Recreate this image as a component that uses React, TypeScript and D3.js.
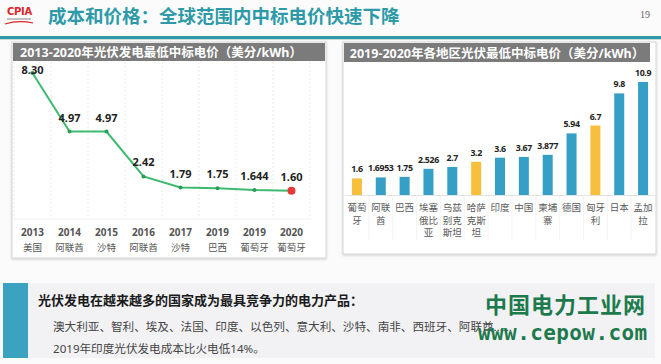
import React from 'react';
import * as d3 from 'd3';

const years = ['2013', '2014', '2015', '2016', '2017', '2019', '2019', '2020'];
const yearCountries = ['美国', '阿联酋', '沙特', '阿联酋', '沙特', '巴西', '葡萄牙', '葡萄牙'];
const yearPrices = [8.3, 4.97, 4.97, 2.42, 1.79, 1.75, 1.644, 1.6];
const yearPriceLabels = ['8.30', '4.97', '4.97', '2.42', '1.79', '1.75', '1.644', '1.60'];

const regions = ['葡萄牙', '阿联酋', '巴西', '埃塞俄比亚', '乌兹别克斯坦', '哈萨克斯坦', '印度', '中国', '柬埔寨', '德国', '匈牙利', '日本', '孟加拉'];
const regionPrices = [1.6, 1.6953, 1.75, 2.526, 2.7, 3.2, 3.6, 3.67, 3.877, 5.94, 6.7, 9.8, 10.9];
const regionPriceLabels = ['1.6', '1.6953', '1.75', '2.526', '2.7', '3.2', '3.6', '3.67', '3.877', '5.94', '6.7', '9.8', '10.9'];
const highlightedRegions = ['葡萄牙', '哈萨克斯坦', '匈牙利'];

const pageTitle = '成本和价格：全球范围内中标电价快速下降';
const leftTitle = '2013-2020年光伏发电最低中标电价（美分/kWh）';
const rightTitle = '2019-2020年各地区光伏最低中标电价（美分/kWh）';
const noteHeading = '光伏发电在越来越多的国家成为最具竞争力的电力产品：';
const noteLine1 = '澳大利亚、智利、埃及、法国、印度、以色列、意大利、沙特、南非、西班牙、阿联酋……';
const noteLine2 = '2019年印度光伏发电成本比火电低14%。';

const FONT = '"Noto Sans", "Noto Sans CJK SC", sans-serif';
const TEAL = '#2e9aa8';
const BLUE = '#369fc5';
const YELLOW = '#f7c03c';
const GREEN = '#3cba6f';

function splitLabel(s: string): string[] {
  const out: string[] = [];
  for (let i = 0; i < s.length; i += 2) out.push(s.slice(i, i + 2));
  return out;
}

export default function App() {
  // Left chart scales
  const lx = d3.scaleBand<number>().domain(d3.range(years.length)).range([14, 310]);
  const ly = d3.scaleLinear().domain([0, 8.3]).range([219, 73]);
  const line = d3
    .line<number>()
    .x((_, i) => (lx(i) as number) + lx.bandwidth() / 2)
    .y((d) => ly(d));

  // Right chart scales
  const rx = d3.scaleBand<number>().domain(d3.range(regions.length)).range([345, 655]).paddingInner(0.58).paddingOuter(0.29);
  const ry = d3.scaleLinear().domain([0, 10.9]).range([195, 82]);
  const rStep = rx.step();

  return (
    <svg width={661} height={364} style={{ position: 'absolute', left: 0, top: 0, background: '#fff' }} fontFamily={FONT}>
      <defs>
        <filter id="sh" x="-5%" y="-5%" width="110%" height="110%">
          <feDropShadow dx="0" dy="1" stdDeviation="1.2" floodColor="#000" floodOpacity="0.18" />
        </filter>
      </defs>
      <rect x={0} y={0} width={661} height={364} fill="#fbfbfc" />

      {/* Header */}
      <text x={7} y={15} fontSize={10} fontWeight={900} fill="#d9262b" fontFamily='"DejaVu Sans", sans-serif' letterSpacing={-0.3}>CPIA</text>
      <rect x={7} y={18} width={24} height={2} fill="#999" opacity={0.6} />
      <path d="M5,24 Q18,20 33,23" stroke="#d9262b" strokeWidth={1.2} fill="none" />
      <text x={48} y={23} fontSize={18.5} fontWeight={700} fill={TEAL}>{pageTitle}</text>
      <text x={640} y={18} fontSize={10} fill="#666" fontFamily='"Liberation Serif", serif'>19</text>
      <rect x={0} y={36} width={661} height={3} fill={TEAL} />
      <rect x={0} y={39} width={661} height={1} fill="#cfd8da" />

      {/* Left panel */}
      <rect x={12} y={42} width={314} height={216} fill="#fff" stroke="#d6d6d6" filter="url(#sh)" />
      <rect x={13} y={43} width={312} height={18} fill="#7b7b7b" />
      <text x={161} y={57} textAnchor="middle" fontSize={12.5} fontWeight={700} fill="#fff">{leftTitle}</text>
      {d3.range(years.length + 1).map((i) => {
        const x = i < years.length ? (lx(i) as number) : 310;
        return <line key={i} x1={x} x2={x} y1={62} y2={219} stroke="#e6e6e6" strokeWidth={0.8} strokeDasharray="2,2" />;
      })}
      <line x1={14} x2={310} y1={219} y2={219} stroke="#ececec" strokeWidth={0.8} />
      <path d={line(yearPrices) || ''} fill="none" stroke={GREEN} strokeWidth={2} />
      {yearPrices.map((v, i) => {
        const cx = (lx(i) as number) + lx.bandwidth() / 2;
        const cy = ly(v);
        const last = i === yearPrices.length - 1;
        return (
          <g key={i}>
            {last ? (
              <circle cx={cx} cy={cy} r={4} fill="#e53935" />
            ) : (
              <circle cx={cx} cy={cy} r={2} fill="#2a9d5a" />
            )}
            <text x={cx} y={Math.max(cy - 10, 74)} textAnchor="middle" fontSize={11} fontWeight={700} fill="#222">
              {yearPriceLabels[i]}
            </text>
            <text x={cx} y={236} textAnchor="middle" fontSize={10} fontWeight={700} fill="#555">{years[i]}</text>
            <text x={cx} y={251} textAnchor="middle" fontSize={9.5} fill="#555">{yearCountries[i]}</text>
          </g>
        );
      })}

      {/* Right panel */}
      <rect x={343} y={42} width={313} height={212} fill="#fff" stroke="#d6d6d6" filter="url(#sh)" />
      <rect x={344} y={43} width={306} height={19} fill="#7b7b7b" />
      <text x={497} y={57.5} textAnchor="middle" fontSize={12.5} fontWeight={700} fill="#fff">{rightTitle}</text>
      {d3.range(regions.length - 1).map((i) => {
        const x = (rx(i) as number) + rx.bandwidth() / 2 + rStep / 2;
        return <line key={i} x1={x} x2={x} y1={196} y2={240} stroke="#f0f0f0" strokeWidth={0.8} />;
      })}
      <line x1={345} x2={655} y1={195.5} y2={195.5} stroke="#e2e2e2" strokeWidth={1} />
      {regionPrices.map((v, i) => {
        const x = rx(i) as number;
        const y = ry(v);
        const cx = x + rx.bandwidth() / 2;
        const hl = highlightedRegions.includes(regions[i]);
        return (
          <g key={i}>
            <rect x={x} y={y} width={rx.bandwidth()} height={195 - y} fill={hl ? YELLOW : BLUE} />
            <text x={cx} y={y - 6} textAnchor="middle" fontSize={8.8} fontWeight={700} fill="#222" letterSpacing={-0.35}>
              {regionPriceLabels[i]}
            </text>
            {splitLabel(regions[i]).map((s, j) => (
              <text key={j} x={cx} y={211 + j * 12.5} textAnchor="middle" fontSize={9.5} fill="#5a5a5a">{s}</text>
            ))}
          </g>
        );
      })}

      {/* Bottom note */}
      <rect x={3} y={283} width={652} height={75} fill="#f2f2f5" />
      <rect x={3} y={283} width={25} height={75} fill="#3ba3bf" />
      <text x={38} y={305} fontSize={13} fontWeight={700} fill="#1a1a1a">{noteHeading}</text>
      <text x={53} y={331} fontSize={11.6} fill="#444">{noteLine1}</text>
      <text x={53} y={353} fontSize={11.6} fill="#444">{noteLine2}</text>

      {/* Watermark */}
      <text x={485} y={313} fontSize={22} fontWeight={700} fill="#1d7a4c" letterSpacing={1}>中国电力工业网</text>
      <text x={478} y={340} fontSize={21} fontWeight={700} fill="#1d7a4c" fontFamily='"DejaVu Sans Mono", monospace' letterSpacing={0.4}>www.cepow.com</text>
    </svg>
  );
}
